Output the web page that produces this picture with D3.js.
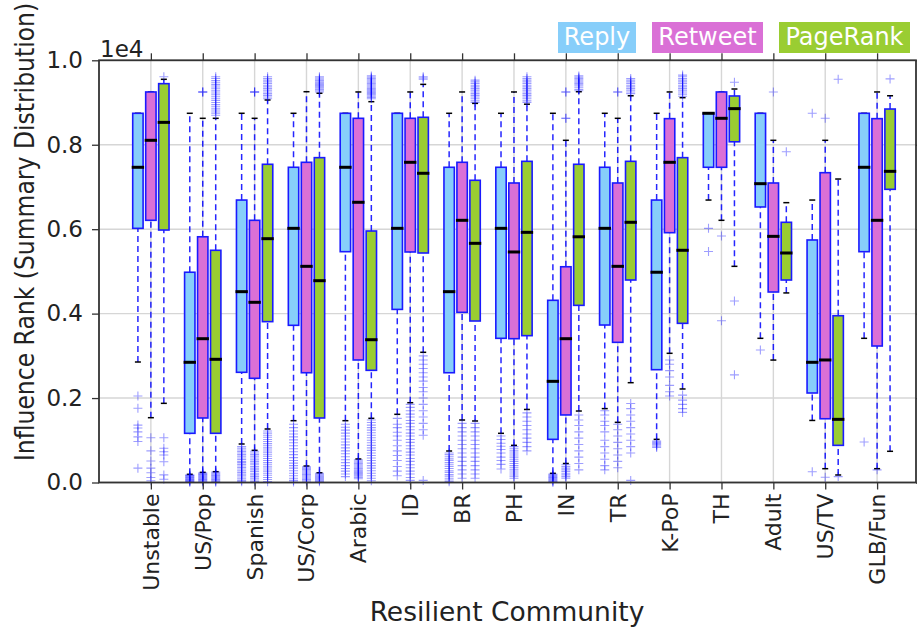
<!DOCTYPE html>
<html><head><meta charset="utf-8">
<script src="https://cdn.jsdelivr.net/npm/d3@7"></script>
<style>body{margin:0;background:#fff}svg{display:block;font-family:"DejaVu Sans",sans-serif}</style>
</head><body><svg id="c" width="917" height="628"></svg>
<script>
const categories = ["Unstable","US/Pop","Spanish","US/Corp","Arabic","ID","BR","PH","IN","TR","K-PoP","TH","Adult","US/TV","GLB/Fun"];
const seriesNames = ["Reply","Retweet","PageRank"];
const seriesColors = ["#87cefa","#da70d6","#9acd32"];
const yTicks = [0,2000,4000,6000,8000,10000];
// [whiskerLow, q1, median, q3, whiskerHigh]
const replyBox = [[2854,6020,7466,8745,8745],[194,1165,2847,4980,8745],[912,2610,4520,6690,8745],[1464,3723,6020,7466,8745],[1464,5467,7466,8745,8745],[1615,4100,6020,8745,8745],[746,2600,4520,7466,8745],[1165,3415,6020,7466,8745],[217,1022,2396,4315,8745],[1750,3730,6020,7466,8745],[1022,2672,4980,6690,8745],[6690,7466,8745,8745,8745],[3415,6526,7078,8745,8745],[1470,2120,2847,5744,6690],[3415,5467,7466,8745,8745]];
const retweetBox = [[1535,6210,8105,9250,9250],[240,1528,3406,5820,8626],[762,2468,4268,6210,8626],[390,2600,5120,7584,9256],[557,2902,6637,8626,9250],[1890,5460,7584,8626,9250],[1480,4030,6210,7584,9250],[880,3406,5460,7094,9250],[450,1600,3406,5110,8105],[1425,3320,5120,7094,8626],[3060,5917,7584,8618,9250],[6210,7466,8626,9250,9250],[2900,4512,5830,7094,8105],[327,1510,2902,7338,8105],[327,3233,6210,8618,9250]];
const pagerankBox = [[1875,5980,8530,9447,9550],[256,1165,2918,5500,8626],[1267,3810,5775,7537,9060],[230,1528,4780,7694,9220],[1520,2657,3382,5957,9020],[3084,5436,7324,8650,9430],[1457,3825,5665,7158,8980],[1730,3478,5925,7607,8960],[1693,4196,5820,7537,9256],[2364,4796,6163,7607,9160],[2215,3770,5500,7694,9115],[5120,8070,8855,9155,9320],[4490,4796,5436,6163,6628],[178,880,1496,3950,7188],[739,6944,7370,8846,9160]];
const replyFliers = [
 [2050,1760,1360,1290,1200,1080,970,340],
 [180,165,150,135,120,105,90,75,60,45,30,15,5],
 [850,810,770,735,700,660,620,580,545,500,470,430,390,355,320,280,240,200,170,130,90,50,20],
 [1380,1300,1220,1150,1080,1010,940,870,800,730,660,590,520,460,400,340,280,220,160,100,50,10],
 [1380,1310,1240,1170,1100,1030,960,890,820,750,680,610,540,470,400,330,270,200,140],
 [1520,1380,1300,1190,1100,1000,870,750,640,520,380,270,160],
 [700,660,610,560,520,470,420,380,330,280,240,190,150,100,60,20],
 [1100,1020,930,860,780,700,600,520,430,320],
 [200,180,160,140,120,100,80,60,40,20,5],
 [1700,1600,1450,1350,1200,1000,850,700,550,400,300],
 [980,950,920,890,860,830],
 [6020,5470],
 [3138],
 [8745,256],
 [960]];
const retweetFliers = [
 [1060,750,510,340,230,120,40],
 [9250,9250,9250,230,210,190,170,150,130,110,90,70,50,30,10],
 [9250,9250,9250,740,700,660,620,580,540,500,460,420,380,340,300,260,220,180,140,100,60,20],
 [370,340,310,280,250,220,190,160,130,100,70,40,10],
 [540,510,480,450,420,390,360,330,300,270,240,210,180,150,120,90],
 [1850,1780,1700,1620,1550,1470,1400,1320,1250,1170,1100,1020,950,870,800,720,650,570,500,420,350,270,200,120,50],
 [1400,1300,1200,1100,1000,900,800,700,600,500,400,300,200,100],
 [850,800,750,700,650,600,550,500,450,400,350,300,250,200,150,100],
 [9250,9250,8626,8626,420,380,340,300,260,220,180,140,100],
 [9250,9250,1380,1250,1100,950,800,650,500,350],
 [2900,2800,2650,2500,2300,2150,2050],
 [5840,3830],
 [9250],
 [8626,123],
 [300]];
const pagerankFliers = [
 [9610,1060,810,730,650,490,180,76],
 [9610,9570,9520,9480,9430,9390,9340,9290,9250,9200,9150,9100,9050,9000,8950,8900,8850,8800,8750,8700,250,225,200,175,150,125,100,75,50,25,5],
 [9610,9570,9530,9490,9450,9410,9370,9330,9290,9250,9210,9170,9130,9090,1220,1170,1120,1070,1020,970,920,870,820,770,720,670,620,570,520,470,420,370,320,270,220,170,120,70,20],
 [9610,9580,9550,9520,9490,9460,9430,9400,9370,9340,9310,9280,9250,220,195,170,145,120,95,70,45,20],
 [9630,9600,9570,9540,9510,9480,9450,9420,9390,9360,9330,9300,9270,9240,9210,9180,9150,9120,9090,1480,1420,1360,1300,1240,1180,1120,1060,1000,940,880,820,760,700,640,580,520,460,400,340,280,220,160,100,40],
 [9610,9580,9550,3000,2900,2800,2700,2600,2500,2400,2250,2150,2000,1850,1700,1550,1400,1250,1120,50],
 [9530,9490,9450,9410,9370,9330,9290,9250,9210,9170,9130,9090,9040,9000,1400,1300,1200,1100,1000,900,800,700,600,500,400,300,200,100],
 [9610,9570,9530,9490,9450,9410,9370,9330,9290,9250,9210,9170,9130,9090,9040,9000,1650,1550,1450,1350,1250,1150,1050,950,850,750],
 [9630,9600,9570,9540,9510,9480,9450,9420,9390,9350,9310,9280,1600,1480,1350,1200,1050,900,750,600,450,300],
 [9570,9530,9490,9450,9410,9370,9330,9290,9250,9210,1870,1750,1600,1450,1300,1150,1000,850,700,50],
 [9650,9610,9570,9530,9490,9450,9410,9370,9330,9290,9250,9200,9150,2070,1950,1850,1750,1660],
 [9480,4300,2550],
 [7834],
 [9550,140],
 [9560]];

const boxes = [replyBox, retweetBox, pagerankBox];
const fliers = [replyFliers, retweetFliers, pagerankFliers];
const offsets = [-0.25, 0, 0.25];

const svg = d3.select("#c");
const L = 99, R = 916, T = 60.3, B = 482.5;
const x = d3.scaleLinear().domain([0, 15.75]).range([L, R]);
const y = d3.scaleLinear().domain([0, 10000]).range([B, T]);
const bw = x(0.2) - x(0);

// grid
const g = svg.append("g");
g.selectAll(".gy").data(yTicks).join("line").attr("x1", L).attr("x2", R)
 .attr("y1", d => y(d)).attr("y2", d => y(d)).attr("stroke", "#d6d6d6").attr("stroke-width", 1.4);
g.selectAll(".gx").data(categories).join("line").attr("y1", T).attr("y2", B)
 .attr("x1", (d,i) => x(i+1)).attr("x2", (d,i) => x(i+1)).attr("stroke", "#d6d6d6").attr("stroke-width", 1.4);

// boxes
boxes.forEach((ser, s) => {
  ser.forEach((st, i) => {
    const cx = x(i + 1 + offsets[s]);
    const [lo, q1, med, q3, hi] = st;
    const gg = svg.append("g");
    [[lo, q1], [q3, hi]].forEach(([a, b]) => {
      if (a !== b) gg.append("line").attr("x1", cx).attr("x2", cx).attr("y1", y(a)).attr("y2", y(b))
        .attr("stroke", "#0000ff").attr("stroke-width", 1.5).attr("stroke-dasharray", "6,4").attr("opacity", 0.85);
    });
    [lo, hi].forEach(v => gg.append("line").attr("x1", cx - 3).attr("x2", cx + 3).attr("y1", y(v)).attr("y2", y(v))
      .attr("stroke", "#000").attr("stroke-width", 1.5));
    fliers[s][i].forEach(v => {
      gg.append("path").attr("d", `M${cx-4.5},${y(v)}h9M${cx},${y(v)-4.5}v9`)
        .attr("stroke", "#0000ff").attr("stroke-width", 1.1).attr("stroke-opacity", 0.38).attr("fill", "none");
    });
    gg.append("rect").attr("x", cx - bw/2).attr("width", bw).attr("y", y(q3)).attr("height", y(q1) - y(q3))
      .attr("fill", seriesColors[s]).attr("stroke", "#1a1aff").attr("stroke-width", 1.6);
    gg.append("line").attr("x1", cx - bw/2 - 1).attr("x2", cx + bw/2 + 1).attr("y1", y(med)).attr("y2", y(med))
      .attr("stroke", "#000").attr("stroke-width", 3);
  });
});

// axes
const axL = svg.append("g").attr("transform", `translate(${L},0)`)
 .call(d3.axisLeft(y).tickValues(yTicks).tickSize(7).tickPadding(9).tickFormat(d => (d/1e4).toFixed(1)));
const axB = svg.append("g").attr("transform", `translate(0,${B})`)
 .call(d3.axisBottom(x).tickValues(d3.range(1, 16)).tickSize(7).tickFormat(""));
const axT = svg.append("g").attr("transform", `translate(0,${T})`)
 .call(d3.axisTop(x).tickValues(d3.range(1, 16)).tickSize(7).tickFormat(""));
const axR = svg.append("g").attr("transform", `translate(${R},0)`)
 .call(d3.axisRight(y).tickValues(yTicks).tickSize(7).tickFormat(""));
[axL, axB, axT, axR].forEach(a => {
  a.select(".domain").remove();
  a.selectAll("line").attr("stroke", "#333").attr("stroke-width", 1.3);
  a.selectAll("text").attr("fill", "#222").style("font-size", "23px").style("font-family", "DejaVu Sans");
});
svg.append("rect").attr("x", L).attr("y", T).attr("width", R - L).attr("height", B - T)
 .attr("fill", "none").attr("stroke", "#333").attr("stroke-width", 1.8);

// x tick labels rotated
svg.append("g").selectAll("text").data(categories).join("text")
 .attr("transform", (d,i) => `translate(${x(i+1)+8},${B+11}) rotate(-90)`)
 .attr("text-anchor", "end").attr("fill", "#222").style("font-size", "22px").text(d => d);

// offset text
svg.append("text").attr("x", L + 1).attr("y", T - 3).attr("fill", "#222").style("font-size", "23px").text("1e4");

// axis labels
svg.append("text").attr("transform", `translate(${34},${232}) rotate(-90) scale(1,1.15)`).attr("text-anchor", "middle")
 .attr("fill", "#222").style("font-size", "23.5px").text("Influence Rank (Summary Distribution)");
svg.append("text").attr("x", 507).attr("y", 621).attr("text-anchor", "middle")
 .attr("fill", "#222").style("font-size", "26.5px").text("Resilient Community");

// legend
const legendBoxes = [[558, 636], [652, 763], [779, 910]];
seriesNames.forEach((n, s) => {
  const [a, b] = legendBoxes[s];
  svg.append("rect").attr("x", a).attr("y", 22).attr("width", b - a).attr("height", 31).attr("fill", seriesColors[s]);
  svg.append("text").attr("x", (a + b) / 2).attr("y", 45).attr("text-anchor", "middle").attr("fill", "#fff")
   .style("font-size", "24px").text(n);
});
</script></body></html>
